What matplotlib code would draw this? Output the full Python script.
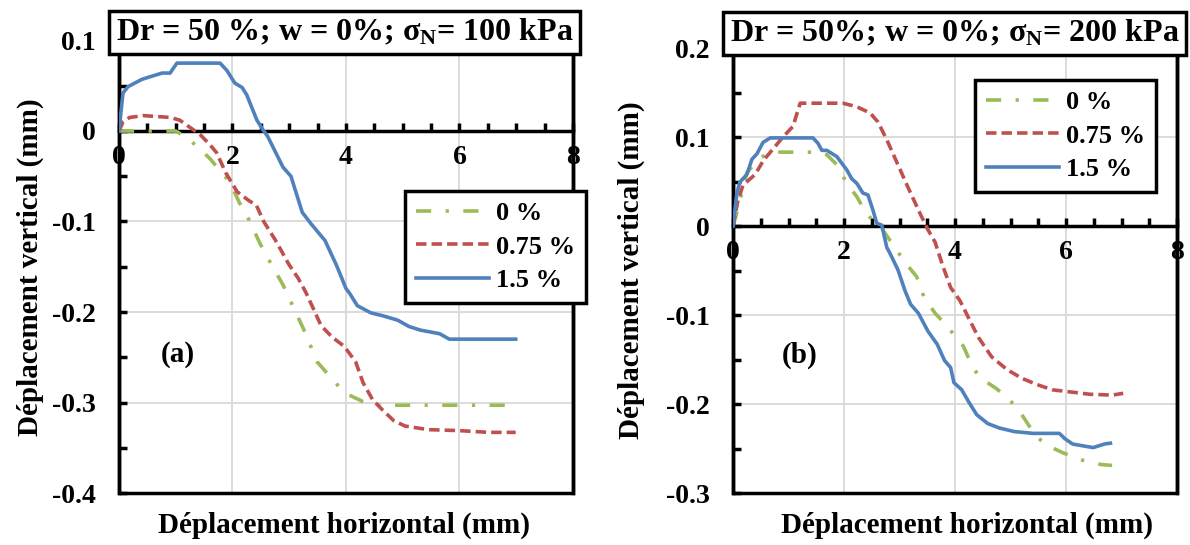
import matplotlib
matplotlib.use('Agg')
import matplotlib.pyplot as plt
from matplotlib.ticker import MultipleLocator
from matplotlib.lines import Line2D
from matplotlib.patches import Rectangle

plt.rcParams['font.family'] = ['Liberation Serif', 'DejaVu Serif']
plt.rcParams['font.weight'] = 'bold'
plt.rcParams['mathtext.fontset'] = 'custom'
plt.rcParams['mathtext.rm'] = 'Liberation Serif:bold'
plt.rcParams['mathtext.it'] = 'Liberation Serif:bold'
plt.rcParams['mathtext.bf'] = 'Liberation Serif:bold'

series_labels = ['0 %', '0.75 %', '1.5 %']

# ---- (a) sigma_N = 100 kPa
a0_x = [0, 0.5, 1.0, 1.21, 1.41, 1.61, 1.78, 1.95, 2.12, 2.29, 2.49, 2.69, 2.89, 3.09, 3.29,
        3.49, 3.70, 3.87, 4.03, 4.3, 4.57, 5.5, 6.86]
a0_y = [0, 0, 0, -0.008, -0.019, -0.031, -0.044, -0.056, -0.079, -0.098, -0.125, -0.148, -0.170,
        -0.197, -0.224, -0.255, -0.270, -0.282, -0.291, -0.299, -0.303, -0.303, -0.303]

a075_x = [0, 0.07, 0.19, 0.43, 0.9, 1.07, 1.25, 1.43, 1.6, 1.72, 1.88, 2.08, 2.29, 2.42, 2.55,
          2.76, 2.99, 3.16, 3.29, 3.43, 3.56, 3.76, 3.97, 4.17, 4.3, 4.47, 4.64, 4.84, 5.04,
          5.45, 5.98, 6.52, 6.99]
a075_y = [0, 0.010, 0.015, 0.017, 0.015, 0.012, 0.004, -0.004, -0.015, -0.024, -0.046, -0.067,
          -0.077, -0.082, -0.100, -0.121, -0.147, -0.163, -0.178, -0.197, -0.215, -0.228, -0.238,
          -0.255, -0.278, -0.297, -0.308, -0.320, -0.326, -0.330, -0.331, -0.333, -0.333]

a15_x = [0, 0.07, 0.16, 0.28, 0.4, 0.55, 0.76, 0.9, 1.02, 1.78, 1.9, 2.04, 2.17, 2.25, 2.43,
         2.54, 2.62, 2.89, 3.03, 3.23, 3.39, 3.63, 3.83, 4.0, 4.07, 4.2, 4.44, 4.64, 4.91, 5.11,
         5.31, 5.65, 5.82, 6.99]
a15_y = [0, 0.042, 0.049, 0.053, 0.057, 0.060, 0.064, 0.064, 0.075, 0.075, 0.067, 0.053, 0.048,
         0.040, 0.012, 0.001, -0.006, -0.040, -0.050, -0.090, -0.103, -0.121, -0.148, -0.174,
         -0.180, -0.193, -0.201, -0.204, -0.209, -0.216, -0.220, -0.224, -0.230, -0.230]

# ---- (b) sigma_N = 200 kPa
b0_x = [0, 0.05, 0.25, 0.45, 0.67, 1.0, 1.53, 1.69, 1.87, 2.05, 2.23, 2.34, 2.5, 2.65, 2.97, 3.1,
        3.31, 3.44, 3.64, 3.85, 3.98, 4.15, 4.32, 4.46, 4.73, 4.93, 5.14, 5.34, 5.47, 5.68, 5.95,
        6.29, 6.63, 6.83]
b0_y = [0, 0.011, 0.060, 0.075, 0.083, 0.083, 0.083, 0.080, 0.069, 0.048, 0.033, 0.021, 0.007, 0,
        -0.029, -0.041, -0.057, -0.080, -0.098, -0.112, -0.122, -0.135, -0.159, -0.171, -0.182,
        -0.192, -0.206, -0.225, -0.237, -0.247, -0.255, -0.263, -0.268, -0.269]

b075_x = [0, 0.09, 0.18, 0.4, 0.55, 0.7, 0.9, 1.08, 1.21, 1.98, 2.23, 2.47, 2.61, 2.77, 2.97,
          3.17, 3.37, 3.51, 3.64, 3.78, 3.92, 4.09, 4.25, 4.42, 4.66, 4.93, 5.2, 5.47, 5.75, 6.02,
          6.42, 6.83, 7.03]
b075_y = [0, 0.029, 0.046, 0.058, 0.074, 0.085, 0.100, 0.112, 0.138, 0.138, 0.134, 0.127, 0.117,
          0.097, 0.069, 0.041, 0.014, -0.004, -0.018, -0.045, -0.069, -0.084, -0.104, -0.125,
          -0.147, -0.161, -0.171, -0.178, -0.184, -0.186, -0.189, -0.190, -0.188]

b15_x = [0, 0.07, 0.12, 0.25, 0.34, 0.43, 0.54, 0.67, 1.44, 1.53, 1.6, 1.69, 1.87, 2.05, 2.14,
         2.23, 2.34, 2.43, 2.52, 2.59, 2.68, 2.77, 2.83, 2.97, 3.10, 3.2, 3.34, 3.51, 3.68, 3.81,
         3.92, 3.98, 4.12, 4.25, 4.39, 4.59, 4.80, 5.07, 5.41, 5.88, 5.98, 6.12, 6.49, 6.69, 6.80]
b15_y = [0, 0.037, 0.049, 0.058, 0.075, 0.081, 0.094, 0.099, 0.099, 0.093, 0.085, 0.085, 0.078,
         0.063, 0.053, 0.048, 0.037, 0.035, 0.018, 0.003, 0.001, -0.024, -0.031, -0.049, -0.073,
         -0.088, -0.098, -0.118, -0.133, -0.151, -0.159, -0.176, -0.184, -0.198, -0.212, -0.222,
         -0.227, -0.231, -0.233, -0.233, -0.239, -0.245, -0.249, -0.245, -0.244]

x_ticks = [0, 2, 4, 6, 8]
x_ticklabels = ['0', '2', '4', '6', '8']
a_yticks = [0.1, 0, -0.1, -0.2, -0.3, -0.4]
a_yticklabels = ['0.1', '0', '-0.1', '-0.2', '-0.3', '-0.4']
b_yticks = [0.2, 0.1, 0, -0.1, -0.2, -0.3]
b_yticklabels = ['0.2', '0.1', '0', '-0.1', '-0.2', '-0.3']

colors = ['#9BBB59', '#C0504D', '#4F81BD']
styles = [(0, (4.2, 4, 0.9, 4)), (0, (2.9, 1.4)), '-']
LW = 2.6

fig = plt.figure(figsize=(11.9, 5.45), dpi=100)
ax1 = fig.add_axes([0.1, 0.0954, 0.3815, 0.8303])
ax2 = fig.add_axes([0.616, 0.0954, 0.3731, 0.8165])


def setup(ax, data, yticks, yticklabels, tag, tag_xy, xlab_x, ylab_x):
    for (xs, ys), c, ls in zip(data, colors, styles):
        ax.plot(xs, ys, color=c, linestyle=ls, lw=LW, zorder=3)
    ax.set_xlim(0, 8)
    ax.set_ylim(min(yticks), max(yticks))
    ax.set_xticks(x_ticks)
    ax.set_xticklabels(x_ticklabels)
    ax.set_yticks(yticks)
    ax.set_yticklabels(yticklabels)
    ax.xaxis.set_minor_locator(MultipleLocator(0.5))
    ax.yaxis.set_minor_locator(MultipleLocator(0.05))
    ax.tick_params(axis='both', which='both', direction='in', length=6, width=2.5, labelsize=20)
    ax.tick_params(axis='x', which='both', pad=10)
    ax.tick_params(axis='y', which='both', pad=17)
    ax.grid(True, which='major', color='#D9D9D9', lw=1.3)
    ax.set_axisbelow(True)
    for s in ax.spines.values():
        s.set_linewidth(2.5)
    ax.spines['bottom'].set_position(('data', 0))
    ax.add_patch(Rectangle((0, 0), 1, 1, transform=ax.transAxes, fill=False,
                           ec='black', lw=2.5, clip_on=False, zorder=2.6))
    ax.set_xlabel('Déplacement horizontal (mm)', fontsize=21, fontweight='bold')
    ax.xaxis.set_label_coords(xlab_x, -0.042)
    ax.set_ylabel('Déplacement vertical (mm)', fontsize=21, fontweight='bold')
    ax.yaxis.set_label_coords(ylab_x, 0.5)
    ax.text(tag_xy[0], tag_xy[1], tag, fontsize=21, fontweight='bold', ha='center', va='center')


setup(ax1, [(a0_x, a0_y), (a075_x, a075_y), (a15_x, a15_y)], a_yticks, a_yticklabels,
      '(a)', (1.04, -0.247), 0.496, -0.165)
setup(ax2, [(b0_x, b0_y), (b075_x, b075_y), (b15_x, b15_y)], b_yticks, b_yticklabels,
      '(b)', (1.2, -0.145), 0.527, -0.198)

handles = [Line2D([], [], color=c, linestyle=ls, lw=LW) for c, ls in zip(colors, styles)]
for ax, (lx, ly) in [(ax1, (405, 191)), (ax2, (975, 80))]:
    leg = ax.legend(handles, series_labels, loc='upper left',
                    bbox_to_anchor=(lx / 1190, 1 - ly / 545), bbox_transform=fig.transFigure,
                    borderaxespad=0, fancybox=False, framealpha=1, edgecolor='black',
                    fontsize=19, handlelength=2.8, handletextpad=0.25, labelspacing=0.38,
                    borderpad=0.4)
    leg.get_frame().set_linewidth(2.5)
    leg.set_zorder(6)

box = dict(boxstyle='square,pad=0.2', fc='white', ec='black', lw=2.5)
fig.text(344.5 / 1190, 1 - 32.5 / 545, r'Dr = 50 %; w = 0%; $\sigma_{\mathrm{N}}$= 100 kPa',
         ha='center', va='center', fontsize=23, fontweight='bold', bbox=box, zorder=10)
fig.text(954.5 / 1190, 1 - 33.5 / 545, r'Dr = 50%; w = 0%; $\sigma_{\mathrm{N}}$= 200 kPa',
         ha='center', va='center', fontsize=23, fontweight='bold', bbox=box, zorder=10)

fig.savefig('out.png', dpi=100)
